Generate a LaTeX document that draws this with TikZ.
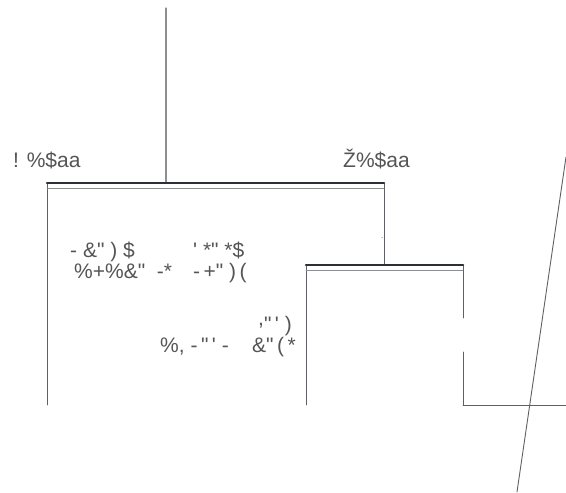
\documentclass[tikz,border=0pt]{standalone}
\usepackage{fontspec}
\usepackage{tkz-euclide}
\newfontfamily\lblfont{Liberation Sans}
\definecolor{bardark}{HTML}{2B3038}
\definecolor{linegray}{HTML}{5E6066}
\definecolor{stemgray}{HTML}{8C8E92}
\definecolor{txtgray}{HTML}{555555}

\begin{document}
\begin{tikzpicture}[x=1pt,y=-1pt,
  lbl/.style = {font=\lblfont\fontsize{21}{25}\selectfont,
                text=txtgray,inner sep=0pt,anchor=base west},
  bar/.style = {color=bardark,line width=2.6pt},
  rule/.style = {color=stemgray,line width=.9pt},
  edge/.style = {color=linegray,line width=.9pt}]
\useasboundingbox (0,0) rectangle (566,493);
\tkzDefPoint(166,8){T}
\tkzDefPoint(166,183){S}
\tkzDefPoint(47,183){A}
\tkzDefPoint(384,183){B}
\tkzDefPoint(47,188){A1}
\tkzDefPoint(384,188){B1}
\tkzDefPoint(47,405){A2}
\tkzDefPoint(384,265){P}
\tkzDefPoint(306,265){C}
\tkzDefPoint(463,265){D}
\tkzDefPoint(306,270){C1}
\tkzDefPoint(463,270){D1}
\tkzDefPoint(306,405){C2}
\tkzDefPoint(463,318){E1}
\tkzDefPoint(463,352){E2}
\tkzDefPoint(463,405){E3}
\tkzDefPoint(566,405){F}
\tkzDefPoint(566,157){G1}
\tkzDefPoint(517,492){G2}
\tkzDrawSegment[color=stemgray,line width=1.2pt](T,S)
\tkzDrawSegments[edge](A,A2 B,P C,C2 D,E1 E2,E3 E3,F)
\tkzDrawSegment[edge](G1,G2)
\tkzDrawSegments[bar](A,B C,D)
\tkzDrawSegments[rule](A1,B1 C1,D1)
\node[lbl] (nameL) at (13,167) {! \%\$aa};
\node[lbl] (nameR) at (343,167) {Ž\%\$aa};
\node[lbl] (rowAL) at (70,257) {- \&" ) \$};
\node[lbl] (rowAR) at (193,257) {' *" *\$};
\node[lbl] (rowBL) at (74,278) {\%+\%\&"\ \ -*};
\node[lbl] (rowBR) at (193,278) {-\,+"\ )\,(};
\node[lbl] (rowC) at (258,331) {\raisebox{6pt}{,}"\,'\;)};
\node[lbl] (rowDL) at (160,352) {\%,\ -\,"\,'\ -};
\node[lbl] (rowDR) at (252,352) {\&"\,(\,*};
\node[lbl,font=\lblfont\fontsize{8}{8}\selectfont] (dot) at (381,238) {.};
\end{tikzpicture}
\end{document}
